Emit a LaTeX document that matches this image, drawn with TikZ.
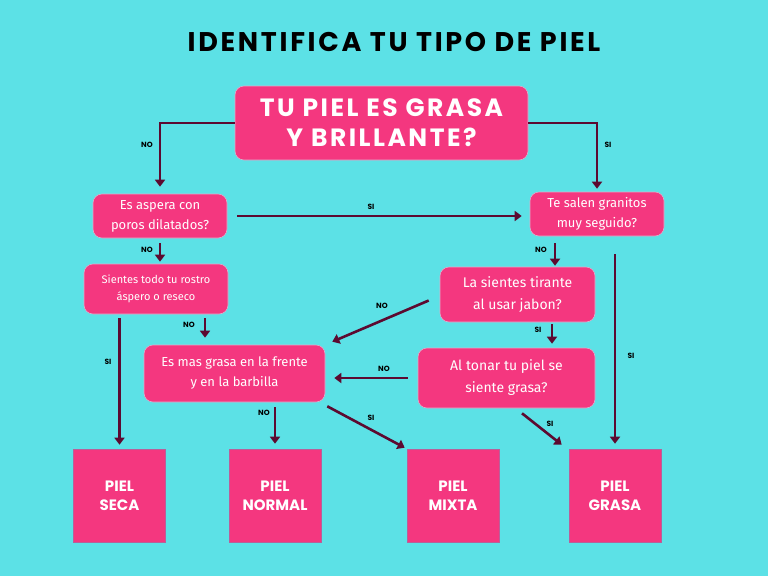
\documentclass[tikz,border=0pt]{standalone}
\usepackage{fontspec}
\setmainfont{Fira Sans}
\newfontfamily\headfont{Poppins}
\newfontfamily\wideheadfont{Poppins}[LetterSpace=10]
\usetikzlibrary{arrows.meta, positioning}
\definecolor{skycyan}{HTML}{5CE1E6}
\definecolor{skinpink}{HTML}{F4377F}
\definecolor{wine}{HTML}{5C0A30}
\definecolor{pinkedge}{HTML}{B8609A}

\begin{document}
\begin{tikzpicture}[x=1pt, y=-1pt,
        question/.style={rectangle, rounded corners=9pt, fill=skinpink, draw=pinkedge!50, line width=0.6pt, text=white, align=center, inner sep=0pt},
        result/.style={rectangle, fill=skinpink, draw=pinkedge, line width=0.6pt, text=white, align=center, minimum width=92pt, minimum height=93pt, inner sep=0pt, font=\headfont\bfseries\fontsize{15}{19}\selectfont},
        answer/.style={font=\headfont\bfseries\fontsize{7.5}{8}\selectfont, text=black, inner sep=1pt},
        arrow/.style={-{Triangle[length=7pt,width=10pt]}, line width=2.6pt, draw=wine}
    ]
        % Background
        \fill[skycyan] (0,0) rectangle (768,576);
        \useasboundingbox (0,0) rectangle (768,576);

        % Title
        \node[font=\wideheadfont\bfseries\fontsize{27}{30}\selectfont] (title) at (394,42) {IDENTIFICA TU TIPO DE PIEL};

        % Questions
        \node[question, minimum width=293pt, minimum height=74pt, font=\wideheadfont\bfseries\fontsize{25}{30}\selectfont] (oily) at (381.5,123) {TU PIEL ES GRASA\\Y BRILLANTE?};
        \node[question, minimum width=134pt, minimum height=44pt, font=\fontsize{13}{20}\selectfont] (rough) at (160,216) {Es aspera con\\poros dilatados?};
        \node[question, minimum width=134pt, minimum height=44pt, font=\fontsize{13}{20}\selectfont] (pimples) at (597,214) {Te salen granitos\\muy seguido?};
        \node[question, minimum width=144pt, minimum height=50pt, font=\fontsize{11}{17}\selectfont] (dry) at (156,289) {Sientes todo tu rostro\\áspero o reseco};
        \node[question, minimum width=181pt, minimum height=57pt, font=\fontsize{13}{20}\selectfont] (tzone) at (234.5,373.5) {Es mas grasa en la frente\\y en la barbilla};
        \node[question, minimum width=155pt, minimum height=55pt, font=\fontsize{14}{22}\selectfont] (soap) at (517.5,294.5) {La sientes tirante\\al usar jabon?};
        \node[question, minimum width=177pt, minimum height=60pt, font=\fontsize{14}{22}\selectfont] (toner) at (506.5,378) {Al tonar tu piel se\\siente grasa?};

        % Results
        \node[result] (dryskin) at (119.5,495.5) {PIEL\\SECA};
        \node[result] (normal) at (275,495.5) {PIEL\\NORMAL};
        \node[result] (mixed) at (453,495.5) {PIEL\\MIXTA};
        \node[result] (oilyskin) at (615,495.5) {PIEL\\GRASA};

        % Arrows
        \draw[arrow, shorten >=7pt] (oily.west) -| (rough.north);
        \draw[arrow, shorten >=3pt] (oily.east) -| (pimples.north);
        \draw[arrow, shorten <=10pt, shorten >=8pt] (rough.east) -- (rough.east -| pimples.west);
        \draw[arrow, shorten <=5pt, shorten >=2pt] (rough.south) -- (rough.south |- dry.north);
        \draw[arrow, shorten <=4pt, shorten >=4pt] (dry.south -| dryskin.north) -- (dryskin.north);
        \draw[arrow, shorten <=4pt, shorten >=7pt] ([xshift=49pt]dry.south) -- ([xshift=49pt]dry.south |- tzone.north);
        \draw[arrow, shorten <=7pt, shorten >=1pt] ([xshift=-42pt]pimples.south) -- ([xshift=-42pt]pimples.south |- soap.north);
        \draw[arrow, shorten <=18pt, shorten >=5pt] (pimples.south -| oilyskin.north) -- (oilyskin.north);
        \draw[arrow] ([shift={(-11,6)}]soap.west) -- ([shift={(7,-3)}]tzone.north east);
        \draw[arrow, shorten <=2pt, shorten >=4pt] ([xshift=34.5pt]soap.south) -- ([xshift=34.5pt]soap.south |- toner.north);
        \draw[arrow, shorten <=10pt, shorten >=9pt] (toner.west) -- (toner.west -| tzone.east);
        \draw[arrow, shorten <=5pt, shorten >=5pt] (tzone.south -| normal.north) -- (normal.north);
        \draw[arrow] ([shift={(2,4)}]tzone.south east) -- ([shift={(-2,-1)}]mixed.north west);
        \draw[arrow] ([shift={(15.5,5)}]toner.south) -- ([shift={(-7,-4)}]oilyskin.north west);

        % Answers
        \node[answer] (no1) at (147,145) {NO};
        \node[answer] (si1) at (608,145) {SI};
        \node[answer] (si2) at (371,207) {SI};
        \node[answer] (no2) at (147,250) {NO};
        \node[answer] (si3) at (108,362) {SI};
        \node[answer] (no3) at (189,325) {NO};
        \node[answer] (no4) at (541,250) {NO};
        \node[answer] (no5) at (382,306) {NO};
        \node[answer] (si4) at (538,330) {SI};
        \node[answer] (no6) at (384,369) {NO};
        \node[answer] (si5) at (631,356) {SI};
        \node[answer] (no7) at (264,413) {NO};
        \node[answer] (si6) at (371,418) {SI};
        \node[answer] (si7) at (550,424) {SI};
    \end{tikzpicture}
\end{document}
